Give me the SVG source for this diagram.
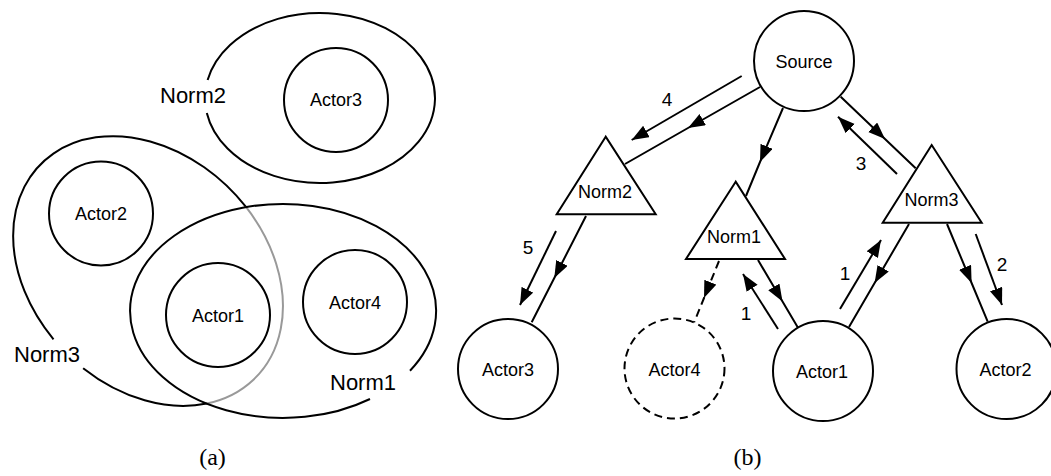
<svg xmlns="http://www.w3.org/2000/svg" width="1051" height="476" viewBox="0 0 1051 476">
  <style>
    .shape { fill: none; stroke: #000; stroke-width: 2; }
    .node { fill: #fff; stroke: #000; stroke-width: 2; }
    .dashed { stroke-dasharray: 8 5; }
    .soft { fill: none; stroke: #999; stroke-width: 2; }
    .edge { fill: none; stroke: #000; stroke-width: 2; }
    .mid { marker-mid: url(#arrow); }
    .end { marker-end: url(#arrow); }
    .label { font-family: "Liberation Sans", Arial, sans-serif; font-size: 18px; fill: #000; text-anchor: middle; }
    .set { font-family: "Liberation Sans", Arial, sans-serif; font-size: 22px; fill: #000; }
    .num { font-family: "Liberation Sans", Arial, sans-serif; font-size: 19px; fill: #000; text-anchor: middle; }
    .caption { font-family: "Liberation Serif", "Times New Roman", serif; font-size: 24px; fill: #000; text-anchor: middle; }
  </style>
  <defs>
    <marker id="arrow" markerUnits="userSpaceOnUse" markerWidth="18" markerHeight="14" refX="17" refY="6.5" orient="auto">
      <path d="M0,0 L17,6.5 L0,13 z" fill="#000"/>
    </marker>
  </defs>

  <rect width="1051" height="476" fill="#fff"/>

  <!-- (a) set view: norms as regions containing actors -->
  <g id="set-norm2">
    <path class="shape" d="M207.6,80 A115 85 0 1 1 206.8,113"/>
    <text class="set" x="160" y="103">Norm2</text>
  </g>
  <g id="set-norm3">
    <path class="shape" d="M53.53,339.36 A151.5 116 45 1 1 245.77,206.74"/>
    <path class="soft" d="M245.77,206.74 A151.5 116 45 0 1 206.85,403.56"/>
    <path class="shape" d="M206.85,403.56 A151.5 116 45 0 1 83.13,368.28"/>
    <text class="set" x="14" y="362">Norm3</text>
  </g>
  <g id="set-norm1">
    <path class="shape" d="M410,370.7 A153 107 0 1 0 370,399"/>
    <text class="set" x="330" y="390">Norm1</text>
  </g>
  <g id="set-actor3">
    <circle class="shape" cx="336" cy="100" r="52"/>
    <text class="label" x="336" y="106">Actor3</text>
  </g>
  <g id="set-actor2">
    <circle class="shape" cx="101" cy="213.5" r="52"/>
    <text class="label" x="101" y="220">Actor2</text>
  </g>
  <g id="set-actor1">
    <circle class="shape" cx="218" cy="315" r="52"/>
    <text class="label" x="218" y="321.5">Actor1</text>
  </g>
  <g id="set-actor4">
    <circle class="shape" cx="355" cy="302" r="52"/>
    <text class="label" x="355" y="308.5">Actor4</text>
  </g>
  <text class="caption" x="212.5" y="465">(a)</text>

  <!-- (b) graph view: connectors -->
  <g id="connectors">
    <!-- Source to Norm2, plus message 4 -->
    <path class="edge mid" d="M760,87 L688,128 L625,164"/>
    <path class="edge end" d="M741.7,76 L631.7,140"/>
    <!-- Source to Norm1 -->
    <path class="edge mid" d="M783,108 L760,162 L746,196"/>
    <!-- Source to Norm3, plus message 3 -->
    <path class="edge mid" d="M840.7,96.7 L885,139 L915.7,168.3"/>
    <path class="edge end" d="M897,174 L838,116.7"/>
    <!-- Norm2 to Actor3, plus message 5 -->
    <path class="edge mid" d="M586,216 L554.3,278 L531.7,322.3"/>
    <path class="edge end" d="M556,231 L520,305"/>
    <!-- Norm1 to Actor4 (dashed) -->
    <path class="edge mid dashed" d="M719,261 L704,298 L694,322.7"/>
    <!-- Norm1 to Actor1, plus message 1 -->
    <path class="edge mid" d="M758,260 L782.5,301.5 L798,327.7"/>
    <path class="edge end" d="M778,329 L743,274"/>
    <!-- Norm3 to Actor1, plus message 1 -->
    <path class="edge mid" d="M909,224 L874.6,283 L849,327"/>
    <path class="edge end" d="M840,309 L881,240"/>
    <!-- Norm3 to Actor2, plus message 2 -->
    <path class="edge mid" d="M947,224 L971.6,283 L987.7,321.7"/>
    <path class="edge end" d="M975.7,234 L1002,305"/>

    <text class="num" x="667" y="106">4</text>
    <text class="num" x="861" y="170">3</text>
    <text class="num" x="528" y="254">5</text>
    <text class="num" x="746" y="320">1</text>
    <text class="num" x="845" y="280">1</text>
    <text class="num" x="1002" y="271">2</text>
  </g>

  <!-- (b) graph view: nodes -->
  <g id="source">
    <circle class="node" cx="804" cy="61" r="50"/>
    <text class="label" x="804" y="67.5">Source</text>
  </g>
  <g id="norm2">
    <polygon class="node" points="605.7,136.7 556.7,214.3 655.7,214.3"/>
    <text class="label" x="605" y="198">Norm2</text>
  </g>
  <g id="norm1">
    <polygon class="node" points="735.7,181.7 686,259 785,259"/>
    <text class="label" x="734" y="242.5">Norm1</text>
  </g>
  <g id="norm3">
    <polygon class="node" points="931.7,145 882.7,222.7 981.7,222.7"/>
    <text class="label" x="931.5" y="205.5">Norm3</text>
  </g>
  <g id="actor3">
    <circle class="node" cx="508" cy="369" r="50"/>
    <text class="label" x="508" y="375.5">Actor3</text>
  </g>
  <g id="actor4">
    <circle class="node dashed" cx="674.5" cy="368.5" r="50"/>
    <text class="label" x="674.5" y="375.5">Actor4</text>
  </g>
  <g id="actor1">
    <circle class="node" cx="823" cy="371" r="50"/>
    <text class="label" x="822" y="378">Actor1</text>
  </g>
  <g id="actor2">
    <circle class="node" cx="1006.5" cy="369" r="50"/>
    <text class="label" x="1005.5" y="375.5">Actor2</text>
  </g>
  <text class="caption" x="747.5" y="465">(b)</text>
</svg>
